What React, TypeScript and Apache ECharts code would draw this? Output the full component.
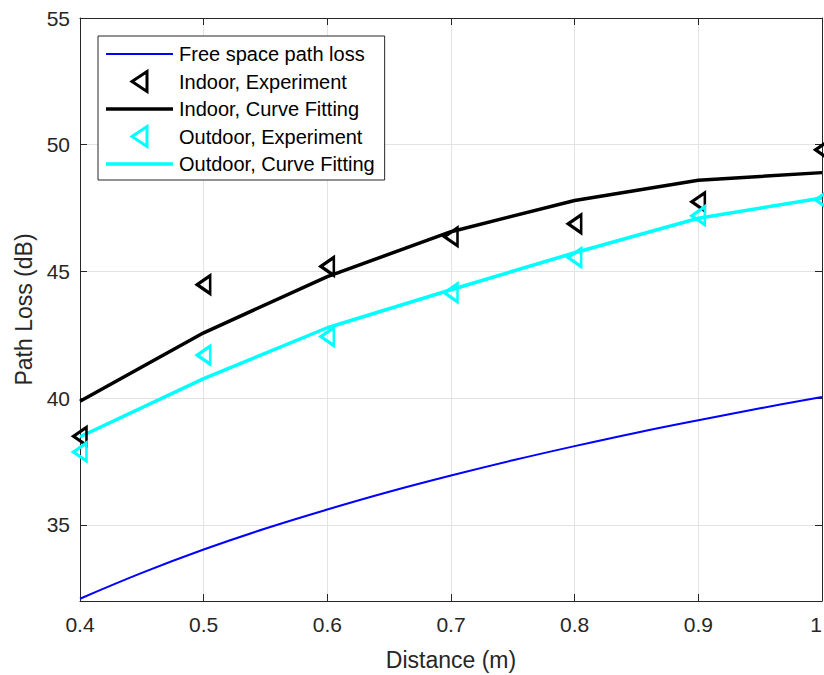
import React, { useEffect, useRef } from "react";
import * as echarts from "echarts";

const distances = [0.4, 0.5, 0.6, 0.7, 0.8, 0.9, 1.0];
const freeSpaceX = [0.4, 0.45, 0.5, 0.55, 0.6, 0.65, 0.7, 0.75, 0.8, 0.85, 0.9, 0.95, 1.0];
const freeSpaceLoss = [32.09, 33.11, 34.03, 34.86, 35.61, 36.31, 36.95, 37.55, 38.11, 38.64, 39.13, 39.6, 40.05];
const indoorExperiment = [38.5, 44.48, 45.2, 46.37, 46.88, 47.75, 49.8];
const indoorFit = [39.88, 42.58, 44.8, 46.57, 47.8, 48.6, 48.9];
const outdoorExperiment = [37.88, 41.7, 42.43, 44.16, 45.55, 47.2, 47.83];
const outdoorFit = [38.48, 40.77, 42.78, 44.28, 45.74, 47.1, 47.9];
const seriesNames = [
  "Free space path loss",
  "Indoor, Experiment",
  "Indoor, Curve Fitting",
  "Outdoor, Experiment",
  "Outdoor, Curve Fitting",
];

const FONT = "'Liberation Sans', Arial, Helvetica, sans-serif";
const TRI = "path://M0,10L15,0L15,20Z";
const THIN_BAR = "path://M0,0H67V2H0Z";
const THICK_BAR = "path://M0,0H67V3.5H0Z";
const CLEAR = "rgba(0,0,0,0)";
const pair = (xs: number[], ys: number[]) => xs.map((x, i) => [x, ys[i]]);

export default function App() {
  const ref = useRef<HTMLDivElement>(null);
  useEffect(() => {
    if (!ref.current) return;
    const chart = echarts.init(ref.current, null, { renderer: "svg" });
    const axisColor = "#262626";
    const gridColor = "#e3e3e3";
    chart.setOption({
      animation: false,
      backgroundColor: "#fff",
      grid: { left: 80, right: 2, top: 18, bottom: 74, containLabel: false, outerBoundsMode: "none" },
      legend: {
        left: 98,
        top: 36,
        orient: "vertical",
        padding: [8, 10, 6, 8],
        itemGap: 6,
        itemWidth: 67,
        itemHeight: 20,
        backgroundColor: "#fff",
        borderColor: axisColor,
        borderWidth: 1,
        textStyle: { fontFamily: FONT, fontSize: 20, color: "#000", padding: [0, 0, 0, 1] },
        data: [
          { name: seriesNames[0], icon: THIN_BAR, itemStyle: { color: "#0000ff", borderWidth: 0 } },
          { name: seriesNames[1], itemStyle: { color: CLEAR, borderColor: "#000", borderWidth: 3 } },
          { name: seriesNames[2], icon: THICK_BAR, itemStyle: { color: "#000", borderWidth: 0 } },
          { name: seriesNames[3], itemStyle: { color: CLEAR, borderColor: "#00ffff", borderWidth: 3 } },
          { name: seriesNames[4], icon: THICK_BAR, itemStyle: { color: "#00ffff", borderWidth: 0 } },
        ],
      },
      xAxis: [
        {
          type: "value",
          min: 0.4,
          max: 1,
          interval: 0.1,
          name: "Distance (m)",
          nameLocation: "middle",
          nameGap: 47,
          nameTextStyle: { fontFamily: FONT, fontSize: 23, color: axisColor },
          axisLine: { show: true, lineStyle: { color: axisColor, width: 1 } },
          axisTick: { show: true, inside: true, length: 7, lineStyle: { color: axisColor } },
          axisLabel: {
            fontFamily: FONT,
            fontSize: 21,
            color: axisColor,
            margin: 13,
            alignMaxLabel: "right",
            formatter: (v: number) => String(Math.round(v * 10) / 10),
          },
          splitLine: { show: true, lineStyle: { color: gridColor, width: 1 } },
        },
        {
          type: "value",
          position: "top",
          min: 0.4,
          max: 1,
          interval: 0.1,
          axisLine: { show: true, lineStyle: { color: axisColor, width: 1 } },
          axisTick: { show: true, inside: true, length: 7, lineStyle: { color: axisColor } },
          axisLabel: { show: false },
          splitLine: { show: false },
        },
      ],
      yAxis: [
        {
          type: "value",
          min: 32,
          max: 55,
          name: "Path Loss (dB)",
          nameLocation: "middle",
          nameGap: 44,
          nameTextStyle: { fontFamily: FONT, fontSize: 23, color: axisColor },
          axisLine: { show: true, lineStyle: { color: axisColor, width: 1 } },
          axisTick: { show: true, inside: true, length: 7, lineStyle: { color: axisColor } },
          axisLabel: {
            fontFamily: FONT,
            fontSize: 21,
            color: axisColor,
            margin: 10,
            formatter: (v: number) => (v % 5 === 0 ? String(v) : ""),
          },
          splitLine: { show: true, lineStyle: { color: gridColor, width: 1 } },
        },
        {
          type: "value",
          position: "right",
          min: 32,
          max: 55,
          axisLine: { show: true, lineStyle: { color: axisColor, width: 1 } },
          axisTick: { show: true, inside: true, length: 7, lineStyle: { color: axisColor } },
          axisLabel: { show: false },
          splitLine: { show: false },
        },
      ],
      series: [
        {
          name: seriesNames[0],
          type: "line",
          data: pair(freeSpaceX, freeSpaceLoss),
          smooth: 0.4,
          showSymbol: false,
          lineStyle: { color: "#0000ff", width: 2 },
          itemStyle: { color: "#0000ff" },
          z: 2,
        },
        {
          name: seriesNames[1],
          type: "scatter",
          data: pair(distances, indoorExperiment),
          symbol: TRI,
          symbolSize: [13, 18],
          itemStyle: { color: CLEAR, borderColor: "#000", borderWidth: 3, opacity: 1 },
          z: 4,
        },
        {
          name: seriesNames[2],
          type: "line",
          data: pair(distances, indoorFit),
          showSymbol: false,
          lineStyle: { color: "#000", width: 3.5 },
          itemStyle: { color: "#000" },
          z: 3,
        },
        {
          name: seriesNames[3],
          type: "scatter",
          data: pair(distances, outdoorExperiment),
          symbol: TRI,
          symbolSize: [13, 18],
          itemStyle: { color: CLEAR, borderColor: "#00ffff", borderWidth: 3, opacity: 1 },
          z: 4,
        },
        {
          name: seriesNames[4],
          type: "line",
          data: pair(distances, outdoorFit),
          showSymbol: false,
          lineStyle: { color: "#00ffff", width: 3.5 },
          itemStyle: { color: "#00ffff" },
          z: 3,
        },
      ],
    });
    return () => chart.dispose();
  }, []);
  return <div ref={ref} style={{ width: 824, height: 675, position: "absolute", left: 0, top: 0 }} />;
}
